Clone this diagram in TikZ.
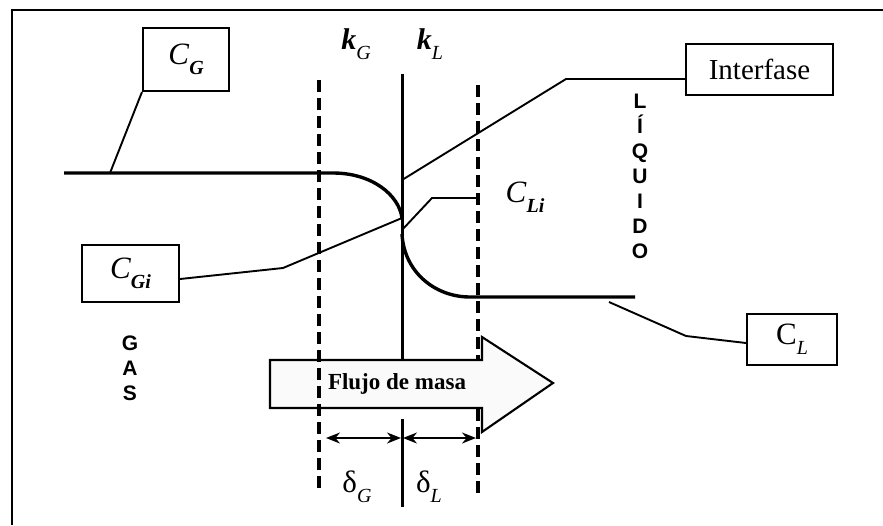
\documentclass[tikz,border=0pt]{standalone}
\usepackage{fontspec}
\setmainfont{Liberation Serif}
\newfontfamily\gsans{Liberation Sans}
\usetikzlibrary{arrows.meta}
\newcommand\lowsub[2][20]{\raisebox{-0.32em}{\fontsize{#1}{#1}\selectfont #2}}
\tikzset{
  thickline/.style={line width=3.4pt},
  leader/.style={line width=1.9pt},
  dashline/.style={line width=3.4pt, dash pattern=on 12pt off 6pt},
  lbox/.style={draw, line width=2.1pt, inner sep=0pt, font=\fontsize{31}{33}\selectfont},
  vlabel/.style={font=\gsans\bfseries\fontsize{21}{25}\selectfont, align=center, inner sep=0pt},
  big/.style={font=\fontsize{30}{32}\selectfont, inner sep=0pt},
  dim/.style={line width=1.8pt, {Stealth[length=14pt,width=11pt]}-{Stealth[length=14pt,width=11pt]}}
}
\begin{document}
\begin{tikzpicture}[x=1pt,y=-1pt]
\useasboundingbox (0,0) rectangle (883,525);
% frame
\draw[line width=2.6pt] (12,525) -- (12,10) -- (883,10);
% coordinates
\coordinate (ifTop) at (402,74);
\coordinate (ifA) at (402,360);
\coordinate (ifB) at (402,419);
\coordinate (ifBot) at (402,507);
\coordinate (dLtop) at (319,80);
\coordinate (dLbot) at (319,493);
\coordinate (dRtop) at (478,85);
\coordinate (dRbot) at (478,498);
\coordinate (gStart) at (64,173);
\coordinate (gBend) at (333,173);
\coordinate (gInt) at (402,218);
\coordinate (lInt) at (402,234);
\coordinate (lBend) at (470,297);
\coordinate (lEnd) at (635,297);
% interface line
\draw[line width=3pt] (ifTop) -- (ifA);
\draw[line width=3pt] (ifB) -- (ifBot);
% right dashed line
\draw[dashline] (dRtop) -- (dRbot);
% concentration profile
\draw[thickline] (gStart) -- (gBend) .. controls (372,173) and (399,195) .. (gInt);
\draw[thickline] (lInt) .. controls (404,272) and (435,297) .. (lBend) -- (lEnd);
% boxes
\node[lbox, minimum width=86pt, minimum height=63pt] (CG) at (186,59.5) {\textit{C}\lowsub{\textbf{\textit{G}}}};
\node[lbox, minimum width=97pt, minimum height=57pt] (CGi) at (130.5,273.5) {\textit{C}\lowsub{\textbf{\textit{Gi}}}};
\node[lbox, minimum width=147pt, minimum height=51pt, font=\fontsize{29}{31}\selectfont] (Int) at (759.5,69.5) {Interfase};
\node[lbox, minimum width=90pt, minimum height=51pt] (CL) at (792,339.5) {C\lowsub{\textit{L}}};
% leaders
\coordinate (cgFoot) at (110,173);
\draw[leader] (CG.south west) -- (cgFoot);
\coordinate (intK) at (566,79);
\coordinate (intF) at (402,180);
\draw[leader] ([yshift=-9.5pt]Int.west) -- (intK) -- (intF);
\coordinate (cgiK) at (283,268);
\draw[leader] ([yshift=-5.5pt]CGi.east) -- (cgiK) -- (gInt);
\coordinate (cliF) at (402,230);
\coordinate (cliK) at (432,198);
\coordinate (cliE) at (477,198);
\draw[leader] (cliF) -- (cliK) -- (cliE);
\coordinate (clK) at (686,336);
\coordinate (clF) at (609,302);
\draw[leader] ([yshift=-3.5pt]CL.west) -- (clK) -- (clF);
% mass-flow arrow
\draw[line width=2.1pt, fill=gray!4] (270,360) -- (482,360) -- (482,337) -- (553,383) -- (482,432) -- (482,408) -- (270,408) -- cycle;
% left dashed line
\draw[dashline] (dLtop) -- (dLbot);
\node[inner sep=0pt, font=\bfseries\fontsize{23}{25}\selectfont] (flujo) at (397,384) {Flujo de masa};
% film thickness arrows
\coordinate (a1) at (326,438);
\coordinate (a2) at (401,438);
\coordinate (a3) at (403,438);
\coordinate (a4) at (476,438);
\draw[dim] (a1) -- (a2);
\draw[dim] (a3) -- (a4);
% labels
\node[big] (kG) at (356,44) {\textbf{\textit{k}}\lowsub{\textit{G}}};
\node[big] (kL) at (430,44) {\textbf{\textit{k}}\lowsub{\textit{L}}};
\node[big, font=\fontsize{31}{33}\selectfont] (CLi) at (525,197) {\textit{C}\lowsub{\textbf{\textit{Li}}}};
\node[big, font=\fontsize{31}{33}\selectfont] (dG) at (357,487) {δ\lowsub{\textit{G}}};
\node[big, font=\fontsize{31}{33}\selectfont] (dL) at (429,487) {δ\lowsub{\textit{L}}};
\node[vlabel, anchor=north] (gas) at (130,336) {G\\A\\S};
\node[vlabel, anchor=north] (liq) at (640,94) {L\\Í\\Q\\U\\I\\D\\O};
\end{tikzpicture}
\end{document}
